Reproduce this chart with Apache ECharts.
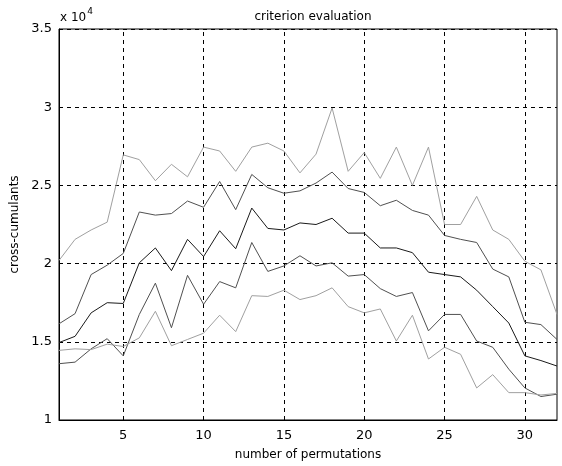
<!DOCTYPE html>
<html>
<head>
<meta charset="utf-8">
<script src="https://cdn.jsdelivr.net/npm/echarts@6/dist/echarts.min.js"></script>
<style>
html,body{margin:0;padding:0;background:#fff;}
#chart{width:562px;height:466px;}
</style>
</head>
<body>
<div id="chart"></div>
<script>
const permutations = [1,2,3,4,5,6,7,8,9,10,11,12,13,14,15,16,17,18,19,20,21,22,23,24,25,26,27,28,29,30,31,32];
const xTicks = [5,10,15,20,25,30];
const yTicks = [10000,15000,20000,25000,30000,35000];

const curve1 = [20200,21550,22150,22650,26950,26650,25300,26350,25550,27450,27200,25900,27450,27700,27200,25800,27000,29950,25900,27100,25450,27450,25000,27450,22500,22500,24300,22150,21550,20150,19600,16750];
const curve2 = [16150,16800,19300,19900,20650,23300,23100,23200,24000,23600,25250,23450,25700,24850,24500,24650,25150,25850,24800,24550,23700,24050,23400,23100,21800,21550,21350,19650,19150,16250,16100,15150];
const curve3 = [14950,15350,16850,17500,17450,20050,21000,19550,21550,20450,22100,20950,23550,22250,22150,22600,22500,22900,21950,21950,21000,21000,20700,19450,19300,19150,18300,17250,16200,14100,13800,13450];
const curve4 = [13600,13700,14550,15200,14100,16750,18750,15900,19250,17400,18850,18450,21350,19500,19850,20500,19850,20050,19200,19300,18400,17900,18150,15700,16750,16750,15050,14650,13250,12050,11500,11650];
const curve5 = [14450,14550,14500,14850,14700,15250,16950,14750,15150,15550,16700,15650,17950,17900,18300,17700,17950,18450,17250,16850,17100,15050,16700,13900,14650,14200,12050,12900,11750,11750,11600,11700];

const curves = [curve1, curve2, curve3, curve4, curve5];
const colors = ['#a0a0a0', '#505050', '#1a1a1a', '#505050', '#a0a0a0'];
const FONT = 'DejaVu Sans';

const chart = echarts.init(document.getElementById('chart'), null, {renderer: 'canvas'});

const series = curves.map((c, i) => ({
  type: 'line',
  data: permutations.map((p, j) => [p, c[j]]),
  showSymbol: false,
  symbol: 'none',
  lineStyle: {color: colors[i], width: 1},
  itemStyle: {color: colors[i]},
  z: 5 + i,
  animation: false
}));

series.push({
  type: 'line',
  data: [],
  markLine: {
    silent: true,
    symbol: ['none', 'none'],
    label: {show: false},
    lineStyle: {color: '#000', type: [4, 4], width: 1},
    data: xTicks.map(t => ({xAxis: t}))
  },
  z: 2,
  animation: false
});

chart.setOption({
  backgroundColor: '#fff',
  animation: false,
  grid: {left: 59, right: 5, top: 29, bottom: 44, show: true, borderColor: '#000', borderWidth: 1, backgroundColor: 'transparent'},
  title: {
    text: 'criterion evaluation',
    left: 308, top: 6, textAlign: 'center',
    textStyle: {fontFamily: FONT, fontSize: 12, fontWeight: 'normal', color: '#000'}
  },
  graphic: [{
    type: 'text',
    left: 60, top: 7,
    style: {
      text: '{b|x 10}{s|4}',
      rich: {
        b: {fontFamily: FONT, fontSize: 12, fill: '#000', padding: [8, 0, 0, 0]},
        s: {fontFamily: FONT, fontSize: 9, fill: '#000', padding: [0, 0, 4, 1]}
      }
    }
  }],
  xAxis: {
    type: 'value',
    min: 1, max: 32,
    name: 'number of permutations',
    nameLocation: 'middle',
    nameGap: 29,
    nameTextStyle: {fontFamily: FONT, fontSize: 12, color: '#000'},
    axisLine: {show: true, lineStyle: {color: '#000', width: 1}},
    axisTick: {show: true, inside: true, length: 4, customValues: xTicks, lineStyle: {color: '#000'}},
    axisLabel: {customValues: xTicks, fontFamily: FONT, fontSize: 13, color: '#000', margin: 9},
    splitLine: {show: false}
  },
  yAxis: {
    type: 'value',
    min: 10000, max: 35000, interval: 5000,
    name: 'cross-cumulants',
    nameLocation: 'middle',
    nameGap: 33,
    nameTextStyle: {fontFamily: FONT, fontSize: 12, color: '#000'},
    axisLine: {show: true, lineStyle: {color: '#000', width: 1}},
    axisTick: {show: true, inside: true, length: 4, lineStyle: {color: '#000'}},
    axisLabel: {fontFamily: FONT, fontSize: 13, color: '#000', margin: 7, formatter: v => String(v / 10000)},
    splitLine: {show: true, lineStyle: {color: '#000', type: [4, 4], width: 1}}
  },
  series: series
});
</script>
</body>
</html>
